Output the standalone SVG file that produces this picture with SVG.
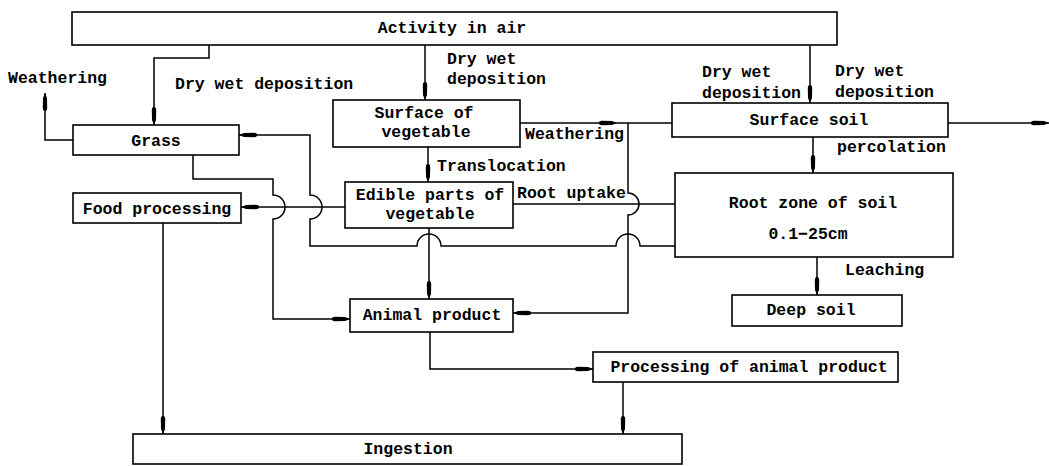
<svg xmlns="http://www.w3.org/2000/svg" width="1049" height="466" viewBox="0 0 1049 466">
<style>
.box{fill:#fff;stroke:#000;stroke-width:1.6}
.t{font-family:"Liberation Mono",monospace;font-weight:bold;font-size:16.5px;fill:#000}
.c{text-anchor:middle}
.ln{fill:none;stroke:#000;stroke-width:1.5}
.ar{marker-end:url(#ah)}
</style>
<defs>
<marker id="ah" viewBox="0 0 18 7" markerWidth="18" markerHeight="7" markerUnits="userSpaceOnUse" refX="18" refY="3.5" orient="auto">
<path d="M0,3.5 Q0,1.3 3,1.3 L13,1.5 L18,3.5 L13,5.5 L3,5.7 Q0,5.7 0,3.5 z" fill="#000"/>
</marker>
</defs>
<rect width="1049" height="466" fill="#fff"/>
<g id="connectors">
<path class="ln ar" d="M209,45 V58 H154 V125"/>
<path class="ln ar" d="M73,140 H45 V93"/>
<path class="ln ar" d="M425,45 V100"/>
<path class="ln ar" d="M810,45 V103"/>
<path class="ln ar" d="M520,123 H617"/>
<path class="ln" d="M617,123 H672"/>
<path class="ln ar" d="M628,123 V193 A11,11 0 0 1 628,215 V313 H513"/>
<path class="ln ar" d="M948,123 H1049"/>
<path class="ln ar" d="M813,137 V173"/>
<path class="ln ar" d="M428,147 V182"/>
<path class="ln" d="M675,204 H513"/>
<path class="ln ar" d="M675,246 H640 A12,12 0 0 0 616,246 H441 A12,12 0 0 0 417,246 H310 V219 A12,12 0 0 0 310,195 V135 H239"/>
<path class="ln ar" d="M345,207 H241"/>
<path class="ln ar" d="M193,155 V179 H273 V195 A12,12 0 0 1 273,219 V319 H350"/>
<path class="ln ar" d="M163,223 V434"/>
<path class="ln ar" d="M429,228 V299"/>
<path class="ln ar" d="M430,332 V369 H593"/>
<path class="ln ar" d="M623,382 V434"/>
<path class="ln ar" d="M817,257 V295"/>
</g>
<g id="labels">
<text class="t" x="8" y="83">Weathering</text>
<text class="t" x="175" y="89">Dry wet deposition</text>
<text class="t" x="447" y="64">Dry wet</text>
<text class="t" x="447" y="84">deposition</text>
<text class="t" x="525" y="139">Weathering</text>
<text class="t" x="702" y="77">Dry wet</text>
<text class="t" x="702" y="98">deposition</text>
<text class="t" x="835" y="76">Dry wet</text>
<text class="t" x="835" y="97">deposition</text>
<text class="t" x="837" y="152">percolation</text>
<text class="t" x="437" y="171">Translocation</text>
<text class="t" x="517" y="198">Root uptake</text>
<text class="t" x="845" y="275">Leaching</text>
</g>
<g id="activity"><rect class="box" x="72" y="12" width="765" height="33"/><text class="t c" x="452" y="33">Activity in air</text></g>
<g id="grass"><rect class="box" x="73" y="125" width="166" height="30"/><text class="t c" x="156" y="146">Grass</text></g>
<g id="surface-veg"><rect class="box" x="333" y="100" width="187" height="47"/><text class="t c" x="424" y="118">Surface of</text><text class="t c" x="426" y="137">vegetable</text></g>
<g id="surface-soil"><rect class="box" x="672" y="103" width="276" height="34"/><text class="t c" x="809" y="125">Surface soil</text></g>
<g id="food-processing"><rect class="box" x="73" y="193" width="168" height="30"/><text class="t c" x="157" y="214">Food processing</text></g>
<g id="edible"><rect class="box" x="345" y="182" width="168" height="46"/><text class="t c" x="430" y="200">Edible parts of</text><text class="t c" x="430" y="219">vegetable</text></g>
<g id="root-zone"><rect class="box" x="675" y="173" width="278" height="84"/><text class="t c" x="813" y="208">Root zone of soil</text><text class="t c" x="808" y="239">0.1−25cm</text></g>
<g id="animal-product"><rect class="box" x="350" y="299" width="163" height="33"/><text class="t c" x="432" y="320">Animal product</text></g>
<g id="deep-soil"><rect class="box" x="732" y="295" width="170" height="31"/><text class="t c" x="811" y="315">Deep soil</text></g>
<g id="processing"><rect class="box" x="593" y="352" width="305" height="30"/><text class="t c" x="749" y="372">Processing of animal product</text></g>
<g id="ingestion"><rect class="box" x="133" y="434" width="549" height="30"/><text class="t c" x="408" y="454">Ingestion</text></g>
</svg>
